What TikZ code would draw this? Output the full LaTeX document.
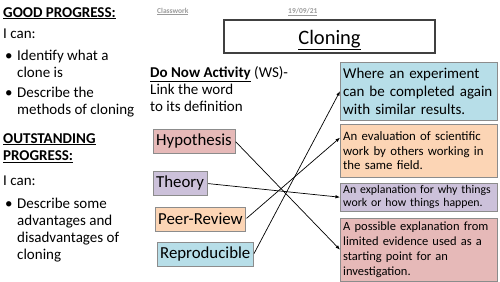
\documentclass[tikz,border=0pt]{standalone}
\usepackage{fontspec}
\setmainfont{Carlito}
\usetikzlibrary{arrows.meta}
\definecolor{hypcol}{HTML}{E6B9B8}
\definecolor{theocol}{HTML}{CCC1DA}
\definecolor{peercol}{HTML}{FCD5B5}
\definecolor{repcol}{HTML}{B7DEE8}
\definecolor{boxline}{HTML}{8C8C8C}
\definecolor{headgrey}{HTML}{9A9A9A}
\tikzset{
  word/.style={draw=boxline, anchor=west, inner xsep=3pt, inner ysep=0pt,
    minimum height=24pt, font=\fontsize{16.8}{19}\selectfont},
  defn/.style={draw=boxline, anchor=north west, text width=151pt,
    inner xsep=3pt, inner ysep=1pt, align=left},
  link/.style={-{Latex[length=4.5pt,width=3.5pt]}, line width=0.7pt, shorten <=1pt},
  side/.style={anchor=base west, inner sep=0pt, font=\fontsize{15}{18}\selectfont},
}
\begin{document}
\begin{tikzpicture}[x=1pt,y=-1pt]
\useasboundingbox (0,0) rectangle (500,281);
% header
\node[anchor=base west, inner sep=0pt, text=headgrey, font=\bfseries\fontsize{7.5}{9}\selectfont]
  (classwork) at (157,13) {\underline{Classwork}};
\node[anchor=base west, inner sep=0pt, text=headgrey, font=\bfseries\fontsize{7.5}{9}\selectfont]
  (date) at (288,13) {\underline{19/09/21}};
\draw[draw=black!75, line width=1.2pt] (224,20) rectangle (435,53);
\node[inner sep=0pt, anchor=base, font=\fontsize{20.5}{24}\selectfont] (title) at (329.5,44) {\underline{Cloning}};

% left column
\node[side] (good) at (3,17) {\textbf{\underline{GOOD PROGRESS:}}};
\node[side] (can1) at (3,38) {I can:};
\node[side] (b1) at (5,60) {\textbullet};
\node[side] (b1a) at (17,60) {Identify what a};
\node[side] (b1b) at (17,77.5) {clone is};
\node[side] (b2) at (5,97) {\textbullet};
\node[side] (b2a) at (17,97) {Describe the};
\node[side] (b2b) at (17,114.5) {methods of cloning};
\node[side] (out1) at (3,143) {\textbf{\underline{OUTSTANDING}}};
\node[side] (out2) at (3,160.5) {\textbf{\underline{PROGRESS:}}};
\node[side] (can2) at (3,185) {I can:};
\node[side] (b3) at (5,208) {\textbullet};
\node[side] (b3a) at (17,208) {Describe some};
\node[side] (b3b) at (17,225) {advantages and};
\node[side] (b3c) at (17,242) {disadvantages of};
\node[side] (b3d) at (17,259) {cloning};

% task
\node[side] (task1) at (150,77) {\textbf{\underline{Do Now Activity}} (WS)-};
\node[side] (task2) at (150,94) {Link the word};
\node[side] (task3) at (150,111) {to its definition};

% words
\node[word, fill=hypcol] (hyp) at (153,141) {Hypothesis};
\node[word, fill=theocol] (theory) at (153,183.5) {Theory};
\node[word, fill=peercol] (peer) at (155,219) {Peer-Review};
\node[word, fill=repcol] (reprod) at (157,254.5) {Reproducible};

% definitions
\node[defn, fill=repcol, minimum height=58pt, font=\fontsize{15}{18}\selectfont] (def1) at (340,62)
  {Where an experiment\\can be completed again\\with similar results.};
\node[defn, fill=peercol, minimum height=53pt, font=\fontsize{12.8}{14.5}\selectfont] (def2) at (340,124)
  {An evaluation of scientific\\work by others working in\\the same field.};
\node[defn, fill=theocol, minimum height=28pt, font=\fontsize{11.8}{13}\selectfont] (def3) at (340,183)
  {An explanation for why things\\work or how things happen.};
\node[defn, fill=hypcol, minimum height=63pt, font=\fontsize{12.5}{15}\selectfont] (def4) at (340,218)
  {A possible explanation from\\limited evidence used as a\\starting point for an\\investigation.};

% links
\coordinate (def2in) at ([yshift=13pt]def2.west);
\draw[link] (reprod.east) -- (def1.west);
\draw[link] (peer.east) -- (def2in);
\draw[link] (theory.east) -- (def3.west);
\draw[link] (hyp.east) -- (def4.west);
\end{tikzpicture}
\end{document}
